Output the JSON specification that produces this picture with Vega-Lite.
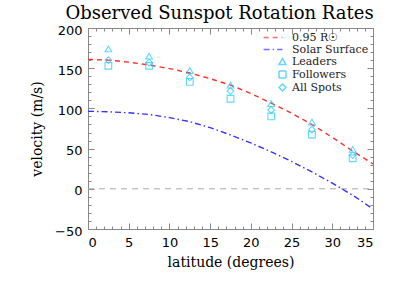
{
  "$schema": "https://vega.github.io/schema/vega-lite/v6.json",
  "width": 285,
  "height": 201,
  "autosize": {"type": "none"},
  "padding": {"left": 88, "top": 28, "right": 26, "bottom": 56},
  "background": "white",
  "title": {"text": "Observed Sunspot Rotation Rates", "font": "DejaVu Serif", "fontSize": 18, "fontWeight": "normal", "anchor": "middle", "dx": -11, "offset": 1, "color": "black"},
  "config": {
    "view": {"stroke": null},
    "axis": {"domainColor": "#888888", "tickColor": "#888888", "grid": false, "labelColor": "black", "titleColor": "black"},
    "legend": {"orient": "top-right", "offset": 4, "padding": 0, "labelFont": "DejaVu Serif", "labelFontSize": 11, "labelColor": "#222222", "symbolSize": 49, "symbolStrokeWidth": 1.5, "rowPadding": 0, "labelOffset": 4, "title": null}
  },
  "datasets": {
    "curves": [
      {"series": "0.95 R☉", "lat": 0, "v": 161},
      {"series": "0.95 R☉", "lat": 2.5, "v": 160},
      {"series": "0.95 R☉", "lat": 5, "v": 157.5},
      {"series": "0.95 R☉", "lat": 7.5, "v": 154},
      {"series": "0.95 R☉", "lat": 10, "v": 149.5},
      {"series": "0.95 R☉", "lat": 12.5, "v": 144},
      {"series": "0.95 R☉", "lat": 15, "v": 137},
      {"series": "0.95 R☉", "lat": 17.5, "v": 129},
      {"series": "0.95 R☉", "lat": 20, "v": 118.5},
      {"series": "0.95 R☉", "lat": 22.5, "v": 106.6},
      {"series": "0.95 R☉", "lat": 25, "v": 94},
      {"series": "0.95 R☉", "lat": 27.5, "v": 80},
      {"series": "0.95 R☉", "lat": 30, "v": 64},
      {"series": "0.95 R☉", "lat": 32.5, "v": 47},
      {"series": "0.95 R☉", "lat": 35, "v": 31},
      {"series": "Solar Surface", "lat": 0, "v": 96.5},
      {"series": "Solar Surface", "lat": 2.5, "v": 95.8},
      {"series": "Solar Surface", "lat": 5, "v": 94.5},
      {"series": "Solar Surface", "lat": 7.5, "v": 92.5},
      {"series": "Solar Surface", "lat": 10, "v": 88.5},
      {"series": "Solar Surface", "lat": 12.5, "v": 83.5},
      {"series": "Solar Surface", "lat": 15, "v": 76},
      {"series": "Solar Surface", "lat": 17.5, "v": 67},
      {"series": "Solar Surface", "lat": 20, "v": 57},
      {"series": "Solar Surface", "lat": 22.5, "v": 46},
      {"series": "Solar Surface", "lat": 25, "v": 34},
      {"series": "Solar Surface", "lat": 27.5, "v": 21},
      {"series": "Solar Surface", "lat": 30, "v": 7},
      {"series": "Solar Surface", "lat": 32.5, "v": -8},
      {"series": "Solar Surface", "lat": 35, "v": -25}
    ],
    "spots": [
      {"series": "Leaders", "lat": 2.5, "v": 174},
      {"series": "Leaders", "lat": 7.5, "v": 165},
      {"series": "Leaders", "lat": 12.5, "v": 147},
      {"series": "Leaders", "lat": 17.5, "v": 129},
      {"series": "Leaders", "lat": 22.5, "v": 106},
      {"series": "Leaders", "lat": 27.5, "v": 83},
      {"series": "Leaders", "lat": 32.5, "v": 49},
      {"series": "Followers", "lat": 2.5, "v": 153},
      {"series": "Followers", "lat": 7.5, "v": 153},
      {"series": "Followers", "lat": 12.5, "v": 133},
      {"series": "Followers", "lat": 17.5, "v": 112},
      {"series": "Followers", "lat": 22.5, "v": 90},
      {"series": "Followers", "lat": 27.5, "v": 67.5},
      {"series": "Followers", "lat": 32.5, "v": 38},
      {"series": "All Spots", "lat": 2.5, "v": 160},
      {"series": "All Spots", "lat": 7.5, "v": 157},
      {"series": "All Spots", "lat": 12.5, "v": 138.5},
      {"series": "All Spots", "lat": 17.5, "v": 121.5},
      {"series": "All Spots", "lat": 22.5, "v": 98},
      {"series": "All Spots", "lat": 27.5, "v": 73.5},
      {"series": "All Spots", "lat": 32.5, "v": 42}
    ],
    "zero": [{"x": 0, "x2": 35, "y": 0}]
  },
  "resolve": {"axis": {"x": "independent", "y": "independent"}},
  "layer": [
    {
      "data": {"name": "zero"},
      "mark": {"type": "rule", "color": "#aaaaaa", "strokeDash": [6, 5], "strokeWidth": 1},
      "encoding": {
        "x": {"field": "x", "type": "quantitative", "scale": {"domain": [0, 35], "nice": false, "zero": false},
          "axis": {"orient": "top", "labels": false, "title": null, "values": [0,1,2,3,4,5,6,7,8,9,10,11,12,13,14,15,16,17,18,19,20,21,22,23,24,25,26,27,28,29,30,31,32,33,34,35], "tickSize": {"condition": {"test": "datum.value % 5 === 0", "value": -6}, "value": -3}}},
        "x2": {"field": "x2"},
        "y": {"field": "y", "type": "quantitative", "scale": {"domain": [-50, 200], "nice": false},
          "axis": {"orient": "right", "labels": false, "title": null, "values": [-50,-40,-30,-20,-10,0,10,20,30,40,50,60,70,80,90,100,110,120,130,140,150,160,170,180,190,200], "tickSize": {"condition": {"test": "datum.value % 50 === 0", "value": -6}, "value": -3}}}
      }
    },
    {
      "data": {"name": "curves"},
      "mark": {"type": "line", "strokeWidth": 1.4},
      "encoding": {
        "x": {"field": "lat", "type": "quantitative", "scale": {"domain": [0, 35], "nice": false, "zero": false},
          "axis": {"orient": "bottom", "ticks": false, "tickSize": 0, "values": [0,5,10,15,20,25,30,35], "labelFont": "DejaVu Sans", "labelFontSize": 13, "labelPadding": 7, "title": "latitude (degrees)", "titleFont": "DejaVu Serif", "titleFontSize": 14, "titleFontWeight": "normal", "titlePadding": 6}},
        "y": {"field": "v", "type": "quantitative", "scale": {"domain": [-50, 200], "nice": false},
          "axis": {"orient": "left", "ticks": false, "tickSize": 0, "values": [-50,0,50,100,150,200], "labelFont": "DejaVu Sans", "labelFontSize": 13, "labelPadding": 6, "labelOffset": 2, "title": "velocity (m/s)", "titleFont": "DejaVu Serif", "titleFontSize": 14, "titleFontWeight": "normal", "titlePadding": 10}},
        "color": {"field": "series", "type": "nominal", "scale": {"domain": ["0.95 R☉", "Solar Surface", "Leaders", "Followers", "All Spots"], "range": ["#ff3030", "#3333ff", "#1ec8ff", "#1ec8ff", "#1ec8ff"]}, "legend": {"title": null}},
        "strokeDash": {"field": "series", "type": "nominal", "scale": {"domain": ["0.95 R☉", "Solar Surface", "Leaders", "Followers", "All Spots"], "range": [[5, 4], [6, 3, 1.5, 3], [1, 0], [1, 0], [1, 0]]}, "legend": {"title": null}}
      }
    },
    {
      "data": {"name": "spots"},
      "mark": {"type": "point", "filled": false, "size": 45, "strokeWidth": 1.1},
      "encoding": {
        "x": {"field": "lat", "type": "quantitative", "scale": {"domain": [0, 35], "nice": false, "zero": false},
          "axis": {"orient": "bottom", "labels": false, "title": null, "domain": false, "values": [0,1,2,3,4,5,6,7,8,9,10,11,12,13,14,15,16,17,18,19,20,21,22,23,24,25,26,27,28,29,30,31,32,33,34,35], "tickSize": {"condition": {"test": "datum.value % 5 === 0", "value": -6}, "value": -3}}},
        "y": {"field": "v", "type": "quantitative", "scale": {"domain": [-50, 200], "nice": false},
          "axis": {"orient": "left", "labels": false, "title": null, "domain": false, "values": [-50,-40,-30,-20,-10,0,10,20,30,40,50,60,70,80,90,100,110,120,130,140,150,160,170,180,190,200], "tickSize": {"condition": {"test": "datum.value % 50 === 0", "value": -6}, "value": -3}}},
        "color": {"field": "series", "type": "nominal", "scale": {"domain": ["0.95 R☉", "Solar Surface", "Leaders", "Followers", "All Spots"], "range": ["#ff3030", "#3333ff", "#1ec8ff", "#1ec8ff", "#1ec8ff"]}, "legend": {"title": null}},
        "shape": {"field": "series", "type": "nominal", "scale": {"domain": ["0.95 R☉", "Solar Surface", "Leaders", "Followers", "All Spots"], "range": ["M-5.4,0H0", "M-5.4,0H0", "triangle-up", "square", "diamond"]}, "legend": {"title": null}}
      }
    }
  ]
}
